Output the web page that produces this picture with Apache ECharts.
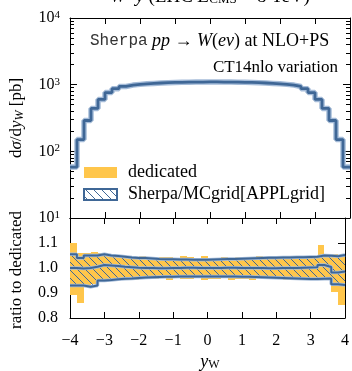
<!DOCTYPE html>
<html><head><meta charset="utf-8">
<script src="https://cdn.jsdelivr.net/npm/echarts@6/dist/echarts.min.js"></script>
<style>html,body{margin:0;padding:0;background:#fff}#c{width:352px;height:371px}</style>
</head><body><div id="c"></div>
<script>
// ---- data ----
const edges = [-4.0,-3.8,-3.6,-3.4,-3.2,-3.0,-2.8,-2.6,-2.4,-2.2,-2.0,-1.8,-1.6,-1.4,-1.2,-1.0,-0.8,-0.6,-0.4,-0.2,0.0,0.2,0.4,0.6,0.8,1.0,1.2,1.4,1.6,1.8,2.0,2.2,2.4,2.6,2.8,3.0,3.2,3.4,3.6,3.8,4.0];
const xsecDedicated = [58,150,290,440,600,760,870,940,985,1010,1030,1045,1060,1070,1080,1085,1090,1095,1095,1100,1100,1095,1095,1090,1085,1080,1070,1060,1045,1030,1010,985,940,870,760,600,440,290,150,58];
const ratioDedicatedHi = [1.100,1.060,1.058,1.062,1.060,1.055,1.050,1.052,1.046,1.044,1.046,1.042,1.040,1.045,1.044,1.040,1.046,1.042,1.040,1.046,1.041,1.040,1.045,1.039,1.042,1.040,1.044,1.048,1.040,1.041,1.045,1.046,1.040,1.042,1.044,1.045,1.092,1.045,1.057,1.050];
const ratioDedicatedLo = [0.890,0.860,0.925,0.935,0.945,0.950,0.948,0.955,0.952,0.950,0.956,0.954,0.955,0.958,0.952,0.960,0.956,0.955,0.958,0.950,0.957,0.956,0.958,0.952,0.957,0.955,0.950,0.958,0.956,0.955,0.957,0.950,0.958,0.955,0.960,0.955,0.955,0.962,0.905,0.852];
const ratioSherpaHi = [1.055,1.040,1.050,1.050,1.055,1.050,1.048,1.045,1.042,1.040,1.040,1.038,1.036,1.035,1.035,1.034,1.034,1.033,1.033,1.033,1.034,1.035,1.036,1.036,1.037,1.038,1.039,1.040,1.041,1.041,1.042,1.042,1.043,1.043,1.044,1.045,1.050,1.049,1.047,1.052];
const ratioSherpaMid = [1.000,0.998,1.000,1.005,1.012,1.010,1.008,1.005,1.003,1.001,1.000,1.000,0.999,0.999,1.000,1.000,1.001,1.001,1.000,1.000,1.000,1.000,1.001,1.001,1.000,1.000,1.000,1.000,0.999,0.999,1.000,1.000,1.000,1.001,1.002,1.003,1.012,1.004,0.982,0.986];
const ratioSherpaLo = [0.930,0.930,0.925,0.930,0.950,0.952,0.955,0.957,0.958,0.960,0.962,0.963,0.964,0.965,0.965,0.966,0.966,0.966,0.966,0.966,0.966,0.966,0.966,0.966,0.965,0.965,0.964,0.963,0.962,0.961,0.960,0.959,0.958,0.957,0.956,0.956,0.957,0.958,0.935,0.932];
const logMajorTicks = [10,100,1000,10000];
const ratioTicks = [0.8,0.9,1.0,1.1,1.2];

// ---- style ----
const ORANGE = '#ffc64b', BLUE = '#3f6796', HALO = '#a5bcd9';
const SERIF = '"Liberation Serif", "DejaVu Serif", serif';
const MONO = '"Liberation Mono", "DejaVu Sans Mono", monospace';

const logMinorTicks = [];
[10,100,1000].forEach(d => { for (let k = 2; k <= 9; k++) logMinorTicks.push(d * k); });

const hatch = document.createElement('canvas');
hatch.width = 8; hatch.height = 8;
(function(){
  const c = hatch.getContext('2d');
  c.strokeStyle = BLUE; c.lineWidth = 1;
  c.beginPath();
  c.moveTo(-2,-2); c.lineTo(10,10);
  c.moveTo(-2,6); c.lineTo(2,10);
  c.moveTo(6,-2); c.lineTo(10,2);
  c.stroke();
})();
const hatchFill = {image: hatch, repeat: 'repeat'};

function stepData(vals) {
  const d = vals.map((v, i) => [edges[i], v]);
  d.push([edges[edges.length - 1], vals[vals.length - 1]]);
  return d;
}
function bandData(lo, hi) {
  return lo.map((v, i) => [edges[i], edges[i + 1], v, hi[i]]);
}
function rectRender(fill) {
  return function (params, api) {
    const p0 = api.coord([api.value(0), api.value(3)]);
    const p1 = api.coord([api.value(1), api.value(2)]);
    const x0 = Math.round(p0[0]), x1 = Math.round(p1[0]);
    const y0 = Math.round(p0[1]), y1 = Math.round(p1[1]);
    return {type: 'rect', shape: {x: x0, y: y0, width: x1 - x0, height: y1 - y0}, style: {fill: fill}};
  };
}
function lineSeries(xi, yi, vals, color, width, z) {
  return {type: 'line', xAxisIndex: xi, yAxisIndex: yi, step: 'end', data: stepData(vals), symbol: 'none',
    lineStyle: {color: color, width: width}, z: z, silent: true, clip: true};
}

const tickLabelStyle = {color: '#000', fontFamily: SERIF, fontSize: 16};
function xAx(grid, pos, labels) {
  return {type: 'value', gridIndex: grid, position: pos, min: -4, max: 4, interval: 1,
    axisLine: {show: true, onZero: false, lineStyle: {color: '#000', width: 1}},
    axisTick: {show: true, inside: true, length: 6, lineStyle: {color: '#000'}},
    axisLabel: {show: labels, margin: 15, ...tickLabelStyle, formatter: v => (v < 0 ? '\u2212' + (-v) : String(v))},
    splitLine: {show: false}};
}
function logAx(pos, major) {
  return {type: 'log', logBase: 10, gridIndex: 0, position: pos, min: 10, max: 10000,
    axisLine: {show: major, onZero: false, lineStyle: {color: '#000', width: 1}},
    axisTick: {show: true, inside: true, length: major ? 7 : 4, customValues: major ? logMajorTicks : logMinorTicks, lineStyle: {color: '#000'}},
    axisLabel: {show: major && pos === 'left', margin: 10, customValues: logMajorTicks,
      formatter: v => '{b|10}{s|' + Math.round(Math.log10(v)) + '}',
      rich: {b: {fontFamily: SERIF, fontSize: 16, color: '#000'}, s: {fontFamily: SERIF, fontSize: 11, color: '#000', verticalAlign: 'top', padding: [0,0,6,0]}}},
    splitLine: {show: false}};
}
function ratioAx(pos) {
  return {type: 'value', gridIndex: 1, position: pos, min: 0.8, max: 1.2, interval: 0.1,
    axisLine: {show: true, onZero: false, lineStyle: {color: '#000', width: 1}},
    axisTick: {show: true, inside: true, length: 7, lineStyle: {color: '#000'}},
    axisLabel: {show: pos === 'left', margin: 12, ...tickLabelStyle, formatter: v => (v > 1.15 ? '' : v.toFixed(1))},
    splitLine: {show: false}};
}

const chart = echarts.init(document.getElementById('c'), null, {renderer: 'canvas'});
chart.setOption({
  animation: false,
  backgroundColor: '#fff',
  grid: [
    {left: 70, top: 18, width: 280, height: 200},
    {left: 70, top: 218, width: 280, height: 100}
  ],
  xAxis: [xAx(0, 'bottom', false), xAx(0, 'top', false), xAx(1, 'bottom', true), xAx(1, 'top', false)],
  yAxis: [logAx('left', true), logAx('left', false), logAx('right', true), logAx('right', false), ratioAx('left'), ratioAx('right')],
  series: [
    lineSeries(0, 0, xsecDedicated, ORANGE, 4, 2),
    lineSeries(0, 0, xsecDedicated, HALO, 5.5, 3),
    lineSeries(0, 0, xsecDedicated, BLUE, 2.8, 4),
    {type: 'custom', xAxisIndex: 2, yAxisIndex: 4, data: bandData(ratioDedicatedLo, ratioDedicatedHi),
      encode: {x: [0, 1], y: [2, 3]}, renderItem: rectRender(ORANGE), z: 2, clip: true, silent: true},
    {type: 'custom', xAxisIndex: 2, yAxisIndex: 4, data: bandData(ratioSherpaLo, ratioSherpaHi),
      encode: {x: [0, 1], y: [2, 3]}, renderItem: rectRender(hatchFill), z: 3, clip: true, silent: true},
    lineSeries(2, 4, ratioSherpaHi, HALO, 3.5, 4),
    lineSeries(2, 4, ratioSherpaMid, HALO, 3.5, 4),
    lineSeries(2, 4, ratioSherpaLo, HALO, 3.5, 4),
    lineSeries(2, 4, ratioSherpaHi, BLUE, 2, 5),
    lineSeries(2, 4, ratioSherpaMid, BLUE, 2, 5),
    lineSeries(2, 4, ratioSherpaLo, BLUE, 2, 5)
  ],
  graphic: [
    {type: 'text', x: 210, y: -3, z: 10, style: {
      text: '{i|W}  {i|y} (LHC {i|E}{sub|CMS} = 8 TeV)', fill: '#000', align: 'center', verticalAlign: 'middle',
      fontFamily: SERIF, fontSize: 19,
      rich: {i: {fontFamily: SERIF, fontSize: 19, fontStyle: 'italic', fill: '#000'},
             sub: {fontFamily: SERIF, fontSize: 13, fill: '#000', verticalAlign: 'bottom', padding: [6,0,0,0]}}}},
    {type: 'text', x: 90, y: 41, z: 10, style: {
      text: '{tt|Sherpa} {i|pp} \u2192 {i|W}({i|e\u03BD}) at NLO+PS', fill: '#000', align: 'left', verticalAlign: 'middle',
      fontFamily: SERIF, fontSize: 18,
      rich: {tt: {fontFamily: MONO, fontSize: 16, fill: '#333'},
             i: {fontFamily: SERIF, fontSize: 18, fontStyle: 'italic', fill: '#000'}}}},
    {type: 'text', x: 338, y: 68, z: 10, style: {text: 'CT14nlo variation', fill: '#000', align: 'right', verticalAlign: 'middle', fontFamily: SERIF, fontSize: 17}},
    {type: 'rect', z: 10, shape: {x: 84, y: 167, width: 33, height: 11}, style: {fill: ORANGE}},
    {type: 'text', x: 128, y: 172, z: 10, style: {text: 'dedicated', fill: '#000', align: 'left', verticalAlign: 'middle', fontFamily: SERIF, fontSize: 18}},
    {type: 'rect', z: 10, shape: {x: 84, y: 189, width: 33, height: 11}, style: {fill: hatchFill, stroke: BLUE, lineWidth: 2}},
    {type: 'text', x: 128, y: 194, z: 10, style: {text: 'Sherpa/MCgrid[APPLgrid]', fill: '#000', align: 'left', verticalAlign: 'middle', fontFamily: SERIF, fontSize: 18}},
    {type: 'text', x: 17, y: 118, rotation: Math.PI / 2, z: 10, style: {
      text: 'd{i|\u03C3}/d{i|y}{sub|W} [pb]', fill: '#000', align: 'center', verticalAlign: 'middle', fontFamily: SERIF, fontSize: 17,
      rich: {i: {fontFamily: SERIF, fontSize: 17, fontStyle: 'italic', fill: '#000'},
             sub: {fontFamily: SERIF, fontSize: 12, fontStyle: 'italic', fill: '#000', verticalAlign: 'bottom', padding: [5,0,0,0]}}}},
    {type: 'text', x: 17, y: 270, rotation: Math.PI / 2, z: 10, style: {text: 'ratio to dedicated', fill: '#000', align: 'center', verticalAlign: 'middle', fontFamily: SERIF, fontSize: 17}},
    {type: 'text', x: 210, y: 362, z: 10, style: {
      text: '{i|y}{sub|W}', fill: '#000', align: 'center', verticalAlign: 'middle', fontFamily: SERIF, fontSize: 18,
      rich: {i: {fontFamily: SERIF, fontSize: 18, fontStyle: 'italic', fill: '#000'},
             sub: {fontFamily: SERIF, fontSize: 12, fill: '#000', verticalAlign: 'bottom', padding: [5,0,0,0]}}}}
  ]
});
</script>
</body></html>
